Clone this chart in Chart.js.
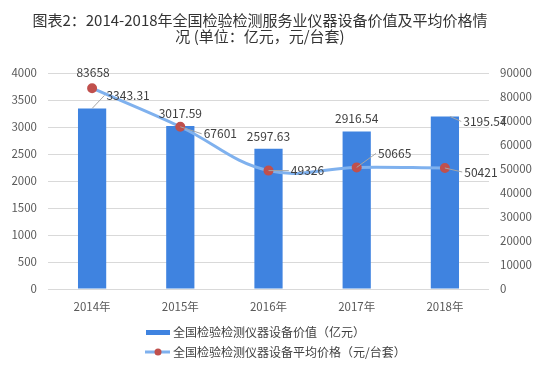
<!DOCTYPE html>
<html>
<head>
<meta charset="utf-8">
<script src="https://cdn.jsdelivr.net/npm/chart.js@4/dist/chart.umd.min.js"></script>
<style>
  html, body { margin: 0; padding: 0; background: #fff; }
  #wrap { width: 550px; height: 377px; }
</style>
</head>
<body>
<div id="wrap"><canvas id="chart" width="550" height="377"></canvas></div>
<script>
// data
const years = ['2014年', '2015年', '2016年', '2017年', '2018年'];
const equipValue = [3343.31, 3017.59, 2597.63, 2916.54, 3195.54];
const avgPrice = [83658, 67601, 49326, 50665, 50421];
const leftTicks = [0, 500, 1000, 1500, 2000, 2500, 3000, 3500, 4000];
const rightTicks = [0, 10000, 20000, 30000, 40000, 50000, 60000, 70000, 80000, 90000];

const titleLines = ['图表2：2014-2018年全国检验检测服务业仪器设备价值及平均价格情', '况 (单位：亿元，元/台套)'];
const barLabel = '全国检验检测仪器设备价值（亿元）';
const lineLabel = '全国检验检测仪器设备平均价格（元/台套）';

const FONT = '"Noto Sans CJK SC", "Noto Sans", sans-serif';
const barColor = '#3f83e0';
const lineColor = '#7fb1ee';
const pointColor = '#c0504d';
const textColor = '#404040';

// label offsets from the mark (dx, dy of text centre; leader line drawn when lead is set)
const barLabelPos = [
  { dx: 36, dy: -13, lead: true },
  { dx: 0, dy: -13 },
  { dx: 0, dy: -12 },
  { dx: 0, dy: -13 },
  { dx: 40, dy: 5, lead: true }
];
const lineLabelPos = [
  { dx: 1, dy: -16 },
  { dx: 40, dy: 7, lead: true },
  { dx: 39, dy: 0, lead: true },
  { dx: 38, dy: -14, lead: true },
  { dx: 36, dy: 4, lead: true }
];

const extras = {
  id: 'extras',
  afterDatasetsDraw(chart) {
    const ctx = chart.ctx;
    ctx.save();
    // title
    ctx.fillStyle = '#333';
    ctx.font = '15px ' + FONT;
    ctx.textAlign = 'center';
    ctx.textBaseline = 'middle';
    ctx.fillText(titleLines[0], 260, 20);
    ctx.fillText(titleLines[1], 260, 36);

    // data labels
    ctx.font = '12px ' + FONT;
    ctx.fillStyle = textColor;
    ctx.strokeStyle = '#a6a6a6';
    ctx.lineWidth = 1;
    const drawLabels = (dsIndex, values, pos, fmt) => {
      const meta = chart.getDatasetMeta(dsIndex);
      meta.data.forEach((el, i) => {
        const p = pos[i];
        const tx = el.x + p.dx, ty = el.y + p.dy;
        const txt = fmt(values[i]);
        if (p.lead) {
          const w = ctx.measureText(txt).width;
          const ex = tx - w / 2 - 2;
          ctx.beginPath();
          ctx.moveTo(el.x + (dsIndex === 1 && i === 4 ? 5 : 0), el.y);
          ctx.lineTo(ex, ty);
          ctx.stroke();
        }
        ctx.fillText(txt, tx, ty);
      });
    };
    drawLabels(1, equipValue, barLabelPos, v => v.toFixed(2));
    drawLabels(0, avgPrice, lineLabelPos, v => String(v));

    // legend
    ctx.textAlign = 'left';
    ctx.fillStyle = barColor;
    ctx.fillRect(146, 330, 24, 5);
    ctx.fillStyle = textColor;
    ctx.fillText(barLabel, 173, 332);
    ctx.strokeStyle = lineColor;
    ctx.lineWidth = 3;
    ctx.beginPath();
    ctx.moveTo(145, 352);
    ctx.lineTo(170, 352);
    ctx.stroke();
    ctx.fillStyle = pointColor;
    ctx.beginPath();
    ctx.arc(158, 352, 3.5, 0, Math.PI * 2);
    ctx.fill();
    ctx.fillStyle = textColor;
    ctx.fillText(lineLabel, 173, 352);
    ctx.restore();
  }
};

const tickFont = { size: 11.5, family: FONT };

new Chart(document.getElementById('chart'), {
  type: 'bar',
  data: {
    labels: years,
    datasets: [
      {
        type: 'line',
        label: lineLabel,
        data: avgPrice,
        yAxisID: 'y1',
        borderColor: lineColor,
        borderWidth: 3,
        tension: 0.4,
        pointRadius: 3.5,
        pointBackgroundColor: pointColor,
        pointBorderColor: pointColor,
        order: 0
      },
      {
        label: barLabel,
        data: equipValue,
        yAxisID: 'y',
        backgroundColor: barColor,
        barPercentage: 0.32,
        categoryPercentage: 1,
        order: 1
      }
    ]
  },
  options: {
    responsive: false,
    animation: false,
    layout: { padding: { top: 73, bottom: 58, left: 0, right: 0 } },
    plugins: {
      legend: { display: false },
      title: { display: false },
      tooltip: { enabled: false }
    },
    scales: {
      x: {
        grid: { display: false },
        border: { display: false },
        ticks: { color: '#595959', font: tickFont, padding: 3 },
        afterFit(s) { s.height = 30; }
      },
      y: {
        position: 'left',
        min: 0,
        max: 4000,
        afterBuildTicks(s) { s.ticks = leftTicks.map(v => ({ value: v })); },
        grid: { color: '#d9d9d9', drawTicks: false },
        border: { display: false },
        ticks: { color: '#595959', font: tickFont, padding: 11, callback: v => String(v) },
        afterFit(s) { s.width = 48; }
      },
      y1: {
        position: 'right',
        min: 0,
        max: 90000,
        afterBuildTicks(s) { s.ticks = rightTicks.map(v => ({ value: v })); },
        grid: { drawOnChartArea: false, drawTicks: false },
        border: { display: false },
        ticks: { color: '#595959', font: tickFont, padding: 11, callback: v => String(v) },
        afterFit(s) { s.width = 61; }
      }
    }
  },
  plugins: [extras]
});
</script>
</body>
</html>
